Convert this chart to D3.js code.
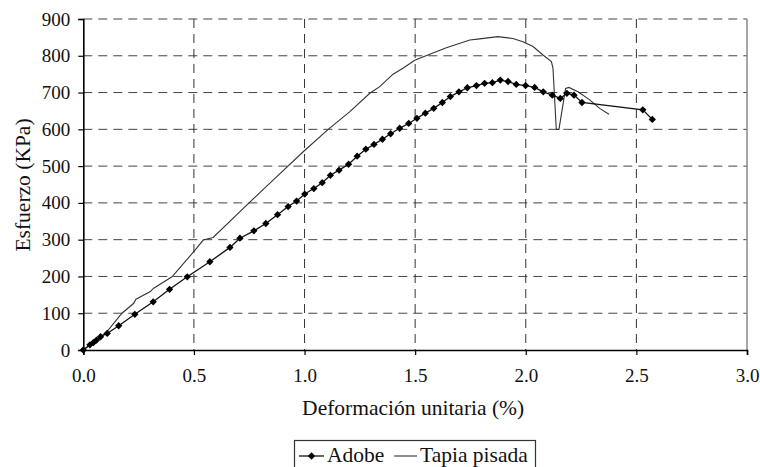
<!DOCTYPE html>
<html><head><meta charset="utf-8">
<script src="https://cdn.jsdelivr.net/npm/d3@7"></script>
<style>body{margin:0;background:#fff}svg{display:block}svg text{font-family:"Liberation Serif","DejaVu Serif","Times New Roman",serif}</style>
</head><body>
<svg id="c" width="760" height="467"></svg>
<script>
const adobeX = [0,0.03,0.045,0.06,0.078,0.108,0.16,0.233,0.316,0.39,0.47,0.572,0.663,0.708,0.771,0.825,0.878,0.926,0.964,1.001,1.042,1.080,1.117,1.156,1.199,1.238,1.277,1.314,1.352,1.389,1.430,1.471,1.508,1.546,1.584,1.623,1.659,1.698,1.736,1.777,1.814,1.849,1.885,1.920,1.957,1.999,2.040,2.079,2.120,2.156,2.186,2.218,2.254,2.529,2.572];
const adobeY = [0,14,20,27,36,45,66,97,131,165,199,240,279,304,324,344,368,390,405,424,439,455,475,489,505,527,546,559,573,588,603,616,630,644,657,673,689,702,713,719,725,727,734,730,722,719,714,702,693,684,698,693,673,653,627];
const tapiaX = [0,0.107,0.175,0.228,0.238,0.303,0.318,0.401,0.506,0.542,0.587,0.708,0.798,0.858,0.994,1.107,1.205,1.295,1.340,1.400,1.445,1.498,1.566,1.641,1.747,1.792,1.874,1.942,1.987,2.033,2.078,2.116,2.123,2.138,2.150,2.180,2.195,2.236,2.289,2.334,2.376];
const tapiaY = [0,50,100,127,138,159,168,199,272,299,306,376,428,462,539,600,648,698,716,750,766,788,804,822,843,846,852,847,838,825,802,784,766,600,600,711,714,702,680,657,641];
const xTicks = [0,0.5,1.0,1.5,2.0,2.5,3.0];
const yTicks = [0,100,200,300,400,500,600,700,800,900];
const xTitle = "Deformación unitaria (%)";
const yTitle = "Esfuerzo (KPa)";
const seriesNames = ["Adobe","Tapia pisada"];

const svg = d3.select("#c");
const L=83.3, R=747, T=19, B=350;
const x = d3.scaleLinear().domain([0,3]).range([L,R]);
const y = d3.scaleLinear().domain([0,900]).range([B,T]);
const font = '"Liberation Serif","DejaVu Serif","Times New Roman",serif';

// grid
svg.append("g").selectAll("line").data(yTicks.filter(d=>d>0)).join("line")
  .attr("x1",L).attr("x2",R).attr("y1",d=>y(d)).attr("y2",d=>y(d))
  .attr("stroke","#444").attr("stroke-width",1).attr("stroke-dasharray","9,6");
svg.append("g").selectAll("line").data(xTicks.filter(d=>d>0&&d<3)).join("line")
  .attr("x1",d=>x(d)).attr("x2",d=>x(d)).attr("y1",T).attr("y2",B)
  .attr("stroke","#333").attr("stroke-width",1).attr("stroke-dasharray","9,6");
// right border
svg.append("line").attr("x1",R).attr("x2",R).attr("y1",T).attr("y2",B)
  .attr("stroke","#888").attr("stroke-width",1.5);

// axes
const yAxis = d3.axisLeft(y).tickValues(yTicks).tickSize(5).tickPadding(8).tickFormat(d3.format("d"));
const gy = svg.append("g").attr("transform",`translate(${L},0)`).call(yAxis);
const xAxis = d3.axisBottom(x).tickValues(xTicks).tickSize(5).tickPadding(17).tickFormat(d3.format(".1f"));
const gx = svg.append("g").attr("transform",`translate(0,${B})`).call(xAxis);
[gx,gy].forEach(g=>{
  g.attr("font-family",null);
  g.selectAll("text").style("font-family",font).attr("font-size",19).attr("fill","#111");
  g.selectAll("line").attr("stroke","#000").attr("stroke-width",1.2);
  g.select(".domain").attr("stroke","#000").attr("stroke-width",1.6);
});
gx.selectAll("text").attr("dy","0.55em");

// lines
const lineT = d3.line().x((d,i)=>x(tapiaX[i])).y(d=>y(d));
svg.append("path").datum(tapiaY).attr("d",lineT).attr("fill","none")
  .attr("stroke","#333").attr("stroke-width",1.1);
const lineA = d3.line().x((d,i)=>x(adobeX[i])).y(d=>y(d));
svg.append("path").datum(adobeY).attr("d",lineA).attr("fill","none")
  .attr("stroke","#111").attr("stroke-width",1.3);
const diamond = d3.symbol().type(d3.symbolDiamond2).size(34);
svg.append("g").selectAll("path").data(adobeY).join("path")
  .attr("d",diamond).attr("transform",(d,i)=>`translate(${x(adobeX[i])},${y(d)})`)
  .attr("fill","#000");

// titles
svg.append("text").attr("x",(L+R)/2 - 2).attr("y",415).attr("text-anchor","middle")
  .style("font-family",font).attr("font-size",21.5).attr("fill","#111").text(xTitle);
svg.append("text").attr("transform","translate(30,185) rotate(-90)").attr("text-anchor","middle")
  .style("font-family",font).attr("font-size",21.5).attr("fill","#111").text(yTitle);

// legend
const lg = svg.append("g");
lg.append("rect").attr("x",294.5).attr("y",440.5).attr("width",241).attr("height",40)
  .attr("fill","#fff").attr("stroke","#333").attr("stroke-width",1.2);
lg.append("line").attr("x1",299).attr("x2",324).attr("y1",456).attr("y2",456).attr("stroke","#111").attr("stroke-width",1.3);
lg.append("path").attr("d",diamond).attr("transform","translate(311.5,456)").attr("fill","#000");
lg.append("text").attr("x",327).attr("y",462).style("font-family",font).attr("font-size",21.5).attr("fill","#111").text(seriesNames[0]);
lg.append("line").attr("x1",394).attr("x2",417).attr("y1",456).attr("y2",456).attr("stroke","#333").attr("stroke-width",1.1);
lg.append("text").attr("x",420).attr("y",462).style("font-family",font).attr("font-size",21.5).attr("fill","#111").text(seriesNames[1]);
</script>
</body></html>
